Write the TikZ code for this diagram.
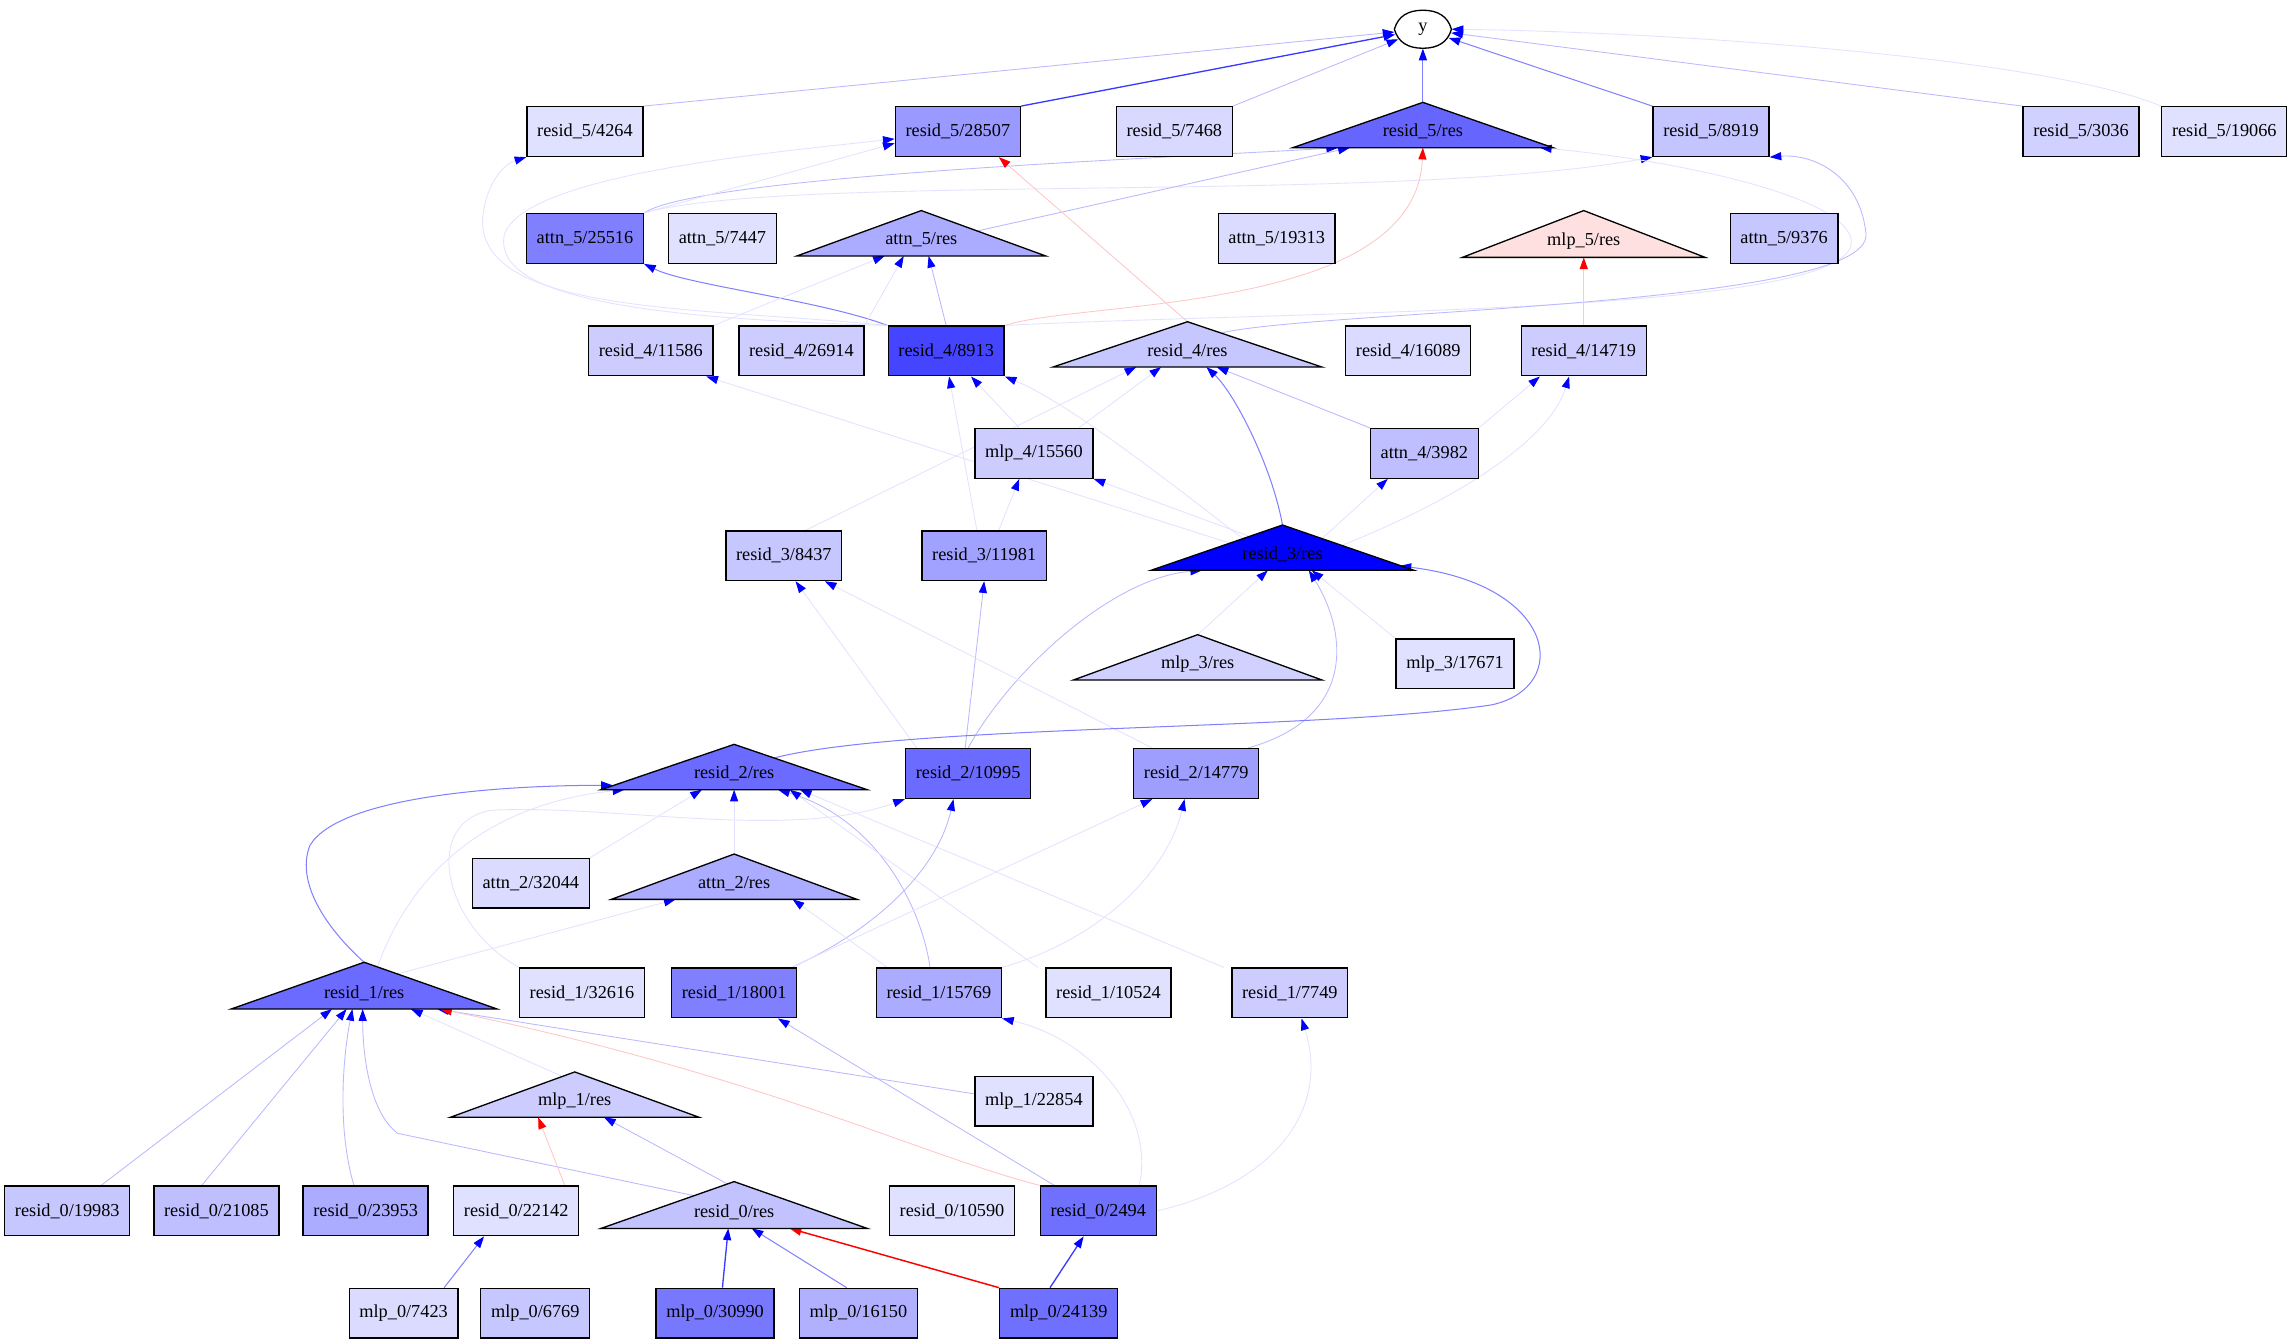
\documentclass[tikz,border=0pt]{standalone}
\usepackage{fontspec}
\setmainfont{Liberation Serif}
\usetikzlibrary{arrows.meta,shapes.geometric,calc}
\pgfdeclarelayer{bg}
\pgfsetlayers{bg,main}
\newcommand\glbl{\fontsize{12.5}{14}\selectfont}
\newcommand\gtri[7]{%
  \node[tbb, minimum width={2*#5}, minimum height={#4-#3}] (#1) at (#2,{(#3+#4)/2}) {};
  \draw[tri, fill=#6] (#1.south west) -- (#1.north) -- (#1.south east) -- cycle;
  \node[lab] (#1L) at (#2,{#4-11}) {#7};
}
\tikzset{
  box/.style={draw=black, line width=0.9pt, minimum height=34pt, inner xsep=7pt, inner ysep=2pt, font=\glbl},
  tbb/.style={shape=rectangle, inner sep=0pt, outer sep=0pt, draw=none},
  tri/.style={draw=black, line width=0.9pt, line join=miter},
  lab/.style={font=\glbl, inner sep=1pt},
  tipb/.style={-{Triangle[length=8pt,width=5.5pt,color=blue]}},
  tipr/.style={-{Triangle[length=8pt,width=5.5pt,color=red]}},
  fa/.style={tipb, draw=blue!11, line width=0.6pt},
  fb/.style={tipb, draw=blue!27, line width=0.6pt},
  fc/.style={tipb, draw=blue!50, line width=0.7pt},
  fd/.style={tipb, draw=blue!78, line width=0.9pt},
  ra/.style={tipr, draw=red!22, line width=0.6pt},
  rd/.style={tipr, draw=red, line width=1pt},
}
\begin{document}
\begin{tikzpicture}[x=1pt,y=-1pt]
\useasboundingbox (0,0) rectangle (1568,919);
% y
\draw[line width=0.9pt, fill=white] (953.5,20) .. controls (956,11) and (963,7) .. (973,7) .. controls (983,7) and (990,11) .. (992.5,20) .. controls (990,29) and (983,33) .. (973,33) .. controls (963,33) and (956,29) .. (953.5,20) -- cycle;
\node[ellipse, minimum width=39pt, minimum height=26pt, inner sep=0pt, font=\glbl] (ny) at (973,20) {y};
% row 5
\node[box, fill=blue!12] (r5x4264) at (400,90) {resid\_5/4264};
\node[box, fill=blue!40] (r5x28507) at (655,90) {resid\_5/28507};
\node[box, fill=blue!15] (r5x7468) at (803,90) {resid\_5/7468};
\gtri{r5res}{973}{70}{101}{89}{blue!60}{resid\_5/res}
\node[box, fill=blue!23] (r5x8919) at (1170,90) {resid\_5/8919};
\node[box, fill=blue!18] (r5x3036) at (1423,90) {resid\_5/3036};
\node[box, fill=blue!12] (r5x19066) at (1521,90) {resid\_5/19066};
% attn 5
\node[box, fill=blue!50] (a5x25516) at (400,163) {attn\_5/25516};
\node[box, fill=blue!12] (a5x7447) at (494,163) {attn\_5/7447};
\gtri{a5res}{630}{144}{175}{85}{blue!33}{attn\_5/res}
\node[box, fill=blue!14] (a5x19313) at (873,163) {attn\_5/19313};
\gtri{m5res}{1083}{144}{176}{83}{red!12}{mlp\_5/res}
\node[box, fill=blue!22] (a5x9376) at (1220,163) {attn\_5/9376};
% row 4
\node[box, fill=blue!20] (r4x11586) at (445,240) {resid\_4/11586};
\node[box, fill=blue!20] (r4x26914) at (548,240) {resid\_4/26914};
\node[box, fill=blue!73] (r4x8913) at (647,240) {resid\_4/8913};
\gtri{r4res}{812}{220}{251}{92}{blue!22}{resid\_4/res}
\node[box, fill=blue!14] (r4x16089) at (963,240) {resid\_4/16089};
\node[box, fill=blue!20] (r4x14719) at (1083,240) {resid\_4/14719};
\node[box, fill=blue!20] (m4x15560) at (707,310) {mlp\_4/15560};
\node[box, fill=blue!25] (a4x3982) at (974,310) {attn\_4/3982};
% row 3
\node[box, fill=blue!22] (r3x8437) at (536,380) {resid\_3/8437};
\node[box, fill=blue!37] (r3x11981) at (673,380) {resid\_3/11981};
\gtri{r3res}{877}{359}{390}{90}{blue}{resid\_3/res}
\gtri{m3res}{819}{434}{465}{85}{blue!18}{mlp\_3/res}
\node[box, fill=blue!12] (m3x17671) at (995,454) {mlp\_3/17671};
% row 2
\gtri{r2res}{502}{509}{540}{91}{blue!58}{resid\_2/res}
\node[box, fill=blue!58] (r2x10995) at (662,529) {resid\_2/10995};
\node[box, fill=blue!38] (r2x14779) at (818,529) {resid\_2/14779};
\node[box, fill=blue!14] (a2x32044) at (363,604) {attn\_2/32044};
\gtri{a2res}{502}{584}{615}{84}{blue!33}{attn\_2/res}
% row 1
\gtri{r1res}{249}{658}{690}{91}{blue!58}{resid\_1/res}
\node[box, fill=blue!12] (r1x32616) at (398,679) {resid\_1/32616};
\node[box, fill=blue!50] (r1x18001) at (502,679) {resid\_1/18001};
\node[box, fill=blue!33] (r1x15769) at (642,679) {resid\_1/15769};
\node[box, fill=blue!12] (r1x10524) at (758,679) {resid\_1/10524};
\node[box, fill=blue!20] (r1x7749) at (882,679) {resid\_1/7749};
\gtri{m1res}{393}{733}{764}{85}{blue!20}{mlp\_1/res}
\node[box, fill=blue!12] (m1x22854) at (707,753) {mlp\_1/22854};
% row 0
\node[box, fill=blue!22] (r0x19983) at (46,828) {resid\_0/19983};
\node[box, fill=blue!25] (r0x21085) at (148,828) {resid\_0/21085};
\node[box, fill=blue!33] (r0x23953) at (250,828) {resid\_0/23953};
\node[box, fill=blue!12] (r0x22142) at (353,828) {resid\_0/22142};
\gtri{r0res}{502}{808}{840}{91}{blue!24}{resid\_0/res}
\node[box, fill=blue!12] (r0x10590) at (651,828) {resid\_0/10590};
\node[box, fill=blue!56] (r0x2494) at (751,828) {resid\_0/2494};
\node[box, fill=blue!14] (m0x7423) at (276,898) {mlp\_0/7423};
\node[box, fill=blue!22] (m0x6769) at (366,898) {mlp\_0/6769};
\node[box, fill=blue!53] (m0x30990) at (489,898) {mlp\_0/30990};
\node[box, fill=blue!31] (m0x16150) at (587,898) {mlp\_0/16150};
\node[box, fill=blue!56] (m0x24139) at (724,898) {mlp\_0/24139};

\begin{pgfonlayer}{bg}
% to y
\draw[fb] (r5x4264.north east) -- (ny);
\draw[fd] (r5x28507.north east) -- (ny);
\draw[fb] (r5x7468.north east) -- (ny);
\draw[fc] (r5res.north) -- (ny);
\draw[fc] (r5x8919.north west) -- (ny);
\draw[fb] (r5x3036.north west) -- (ny);
\draw[fa] (r5x19066.north west) .. controls (1400,40) and (1150,22) .. (ny.east);
% into row 5
\draw[fb] (a5x25516.north east) .. controls (480,120) and (800,108) .. ([xshift=-58pt]r5res.south);
\draw[fa] (a5x25516.north east) -- ([yshift=-8pt]r5x28507.west);
\draw[fa] (a5x25516.north east) .. controls (540,118) and (950,140) .. (r5x8919.south west);
\draw[fb] ($(a5res.north)!0.45!(a5res.south east)$) -- ([xshift=-50pt]r5res.south);
\draw[fc] (r4x8913.north west) .. controls (560,205) and (470,195) .. (a5x25516.south east);
\draw[fb] (r4x8913.north) -- ([xshift=5pt]a5res.south);
\draw[fa] (r4x11586.north east) -- ([xshift=-25pt]a5res.south);
\draw[fa] (r4x26914.north east) -- ([xshift=-12pt]a5res.south);
\draw[fa] (r4x8913.north west) .. controls (480,210) and (328,215) .. (330,150) .. controls (332,125) and (345,112) .. (r5x4264.south west);
\draw[fa] (r4x8913.north west) .. controls (450,218) and (335,205) .. (345,160) .. controls (360,120) and (520,105) .. ([yshift=-5pt]r5x28507.west);
\draw[ra] (r4x8913.north east) .. controls (740,205) and (968,215) .. (r5res.south);
\draw[fa] (r4x8913.north east) .. controls (900,212) and (1268,215) .. (1266,165) .. controls (1264,135) and (1150,110) .. ([xshift=80pt]r5res.south);
\draw[fb] ($(r4res.north)!0.25!(r4res.south east)$) .. controls (900,212) and (1280,210) .. (1276,160) .. controls (1272,120) and (1240,105) .. (r5x8919.south east);
\draw[ra] (r4res.north) -- ([xshift=28pt]r5x28507.south);
\draw[ra] (r4x14719.north) -- (m5res.south);
% into row 4
\draw[fc] (r3res.north) .. controls (870,320) and (845,270) .. ([xshift=13pt]r4res.south);
\draw[fa] ($(r3res.north)!0.4!(r3res.south west)$) -- ([xshift=38pt]r4x11586.south);
\draw[fa] ($(r3res.north)!0.3!(r3res.south west)$) .. controls (800,330) and (730,275) .. (r4x8913.south east);
\draw[fa] ($(r3res.north)!0.25!(r3res.south west)$) -- (m4x15560.south east);
\draw[fa] ($(r3res.north)!0.3!(r3res.south east)$) -- ([xshift=-25pt]a4x3982.south);
\draw[fa] ($(r3res.north)!0.45!(r3res.south east)$) .. controls (1000,340) and (1060,300) .. ([xshift=-10pt]r4x14719.south);
\draw[fb] (a4x3982.north west) -- ([xshift=20pt]r4res.south);
\draw[fa] (a4x3982.north east) -- ([xshift=-30pt]r4x14719.south);
\draw[fa] ([xshift=-10pt]m4x15560.north east) -- ([xshift=-18pt]r4res.south);
\draw[fa] ([xshift=-10pt]m4x15560.north) -- ([xshift=17pt]r4x8913.south);
\draw[fa] ([xshift=-25pt]r3x8437.north east) -- ([xshift=-35pt]r4res.south);
\draw[fa] ([xshift=-5pt]r3x11981.north) -- ([xshift=2pt]r4x8913.south);
\draw[fa] ([xshift=10pt]r3x11981.north) -- ([xshift=-10pt]m4x15560.south);
% into row 3
\draw[fb] (r2x10995.north) .. controls (690,460) and (760,395) .. ([xshift=-55pt]r3res.south);
\draw[fb] ([xshift=-2pt]r2x10995.north) -- (r3x11981.south);
\draw[fa] ([xshift=-35pt]r2x10995.north) -- ([xshift=8pt]r3x8437.south);
\draw[fa] ([xshift=-30pt]r2x14779.north) -- ([xshift=28pt]r3x8437.south);
\draw[fb] ([xshift=-8pt]r2x14779.north east) .. controls (930,490) and (920,430) .. ([xshift=18pt]r3res.south);
\draw[fc] ($(r2res.north)!0.3!(r2res.south east)$) .. controls (620,495) and (900,500) .. (1020,482) .. controls (1075,470) and (1065,400) .. ([xshift=-10pt,yshift=3pt]r3res.south east);
\draw[fa] (m3res.north) -- ([xshift=-10pt]r3res.south);
\draw[fa] (m3x17671.north west) -- ([xshift=20pt]r3res.south);
% into row 2
\draw[fc] (r1res.north) .. controls (218,630) and (203,600) .. (212,578) .. controls (232,545) and (340,537) .. ([xshift=8pt,yshift=3pt]r2res.south west);
\draw[fa] (a2res.north) -- (r2res.south);
\draw[fa] (a2x32044.north east) -- ([xshift=-22pt]r2res.south);
\draw[fa] (r1x32616.north west) .. controls (300,630) and (290,560) .. (337,554) .. controls (420,550) and (540,575) .. (r2x10995.south west);
\draw[fa] ($(r1res.north)!0.1!(r1res.south east)$) .. controls (280,600) and (330,550) .. ([xshift=-75pt]r2res.south);
\draw[fb] ([xshift=-6pt]r1x15769.north) .. controls (630,620) and (600,560) .. ([xshift=30pt]r2res.south);
\draw[fa] ([xshift=-5pt]r1x10524.north west) -- ([xshift=38pt]r2res.south);
\draw[fa] ([xshift=-5pt]r1x7749.north west) -- ([xshift=45pt]r2res.south);
\draw[fb] ([xshift=-4pt]r1x18001.north east) .. controls (590,640) and (640,600) .. ([xshift=-10pt]r2x10995.south);
\draw[fa] ([xshift=-4pt]r1x18001.north east) -- ([xshift=-30pt]r2x14779.south);
\draw[fa] (r1x15769.north east) .. controls (760,640) and (800,590) .. ([xshift=-8pt]r2x14779.south);
\draw[fa] ($(r1res.north)!0.25!(r1res.south east)$) -- ([xshift=-40pt]a2res.south);
\draw[fa] ([xshift=8pt]r1x15769.north west) -- ([xshift=40pt]a2res.south);
% into row 1
\draw[fb] ([xshift=-20pt]r0x19983.north east) -- ([xshift=-22pt]r1res.south);
\draw[fb] ([xshift=-10pt]r0x21085.north) -- ([xshift=-12pt]r1res.south);
\draw[fb] ([xshift=-8pt]r0x23953.north) .. controls (230,770) and (235,720) .. ([xshift=-8pt]r1res.south);
\draw[fb] ($(r0res.north)!0.3!(r0res.south west)$) -- (272,775) .. controls (254,762) and (248,725) .. ([xshift=-1pt]r1res.south);
\draw[fa] ($(m1res.north)!0.1!(m1res.south west)$) -- ([xshift=32pt]r1res.south);
\draw[fb] ([yshift=5pt]m1x22854.west) -- ([xshift=50pt]r1res.south);
\draw[ra] (r0x2494.north west) .. controls (630,790) and (520,735) .. ([xshift=52pt]r1res.south);
\draw[fb] ([xshift=10pt]r0x2494.north west) -- ([xshift=30pt]r1x18001.south);
\draw[fa] ([xshift=-12pt]r0x2494.north east) .. controls (790,760) and (745,710) .. (r1x15769.south east);
\draw[fa] (r0x2494.east) .. controls (870,810) and (910,760) .. ([xshift=8pt]r1x7749.south);
\draw[ra] ([xshift=-10pt]r0x22142.north east) -- ([xshift=-25pt]m1res.south);
\draw[fb] ($(r0res.north)!0.05!(r0res.south west)$) -- ([xshift=20pt]m1res.south);
% into row 0
\draw[fc] ([xshift=-10pt]m0x7423.north east) -- ([xshift=-22pt]r0x22142.south);
\draw[fd] ([xshift=5pt]m0x30990.north) -- ([xshift=-4pt]r0res.south);
\draw[fc] ([xshift=-8pt]m0x16150.north) -- ([xshift=12pt]r0res.south);
\draw[rd] (m0x24139.north west) -- ([xshift=38pt]r0res.south);
\draw[fd] ([xshift=-6pt]m0x24139.north) -- ([xshift=-10pt]r0x2494.south);
\end{pgfonlayer}
\end{tikzpicture}
\end{document}
